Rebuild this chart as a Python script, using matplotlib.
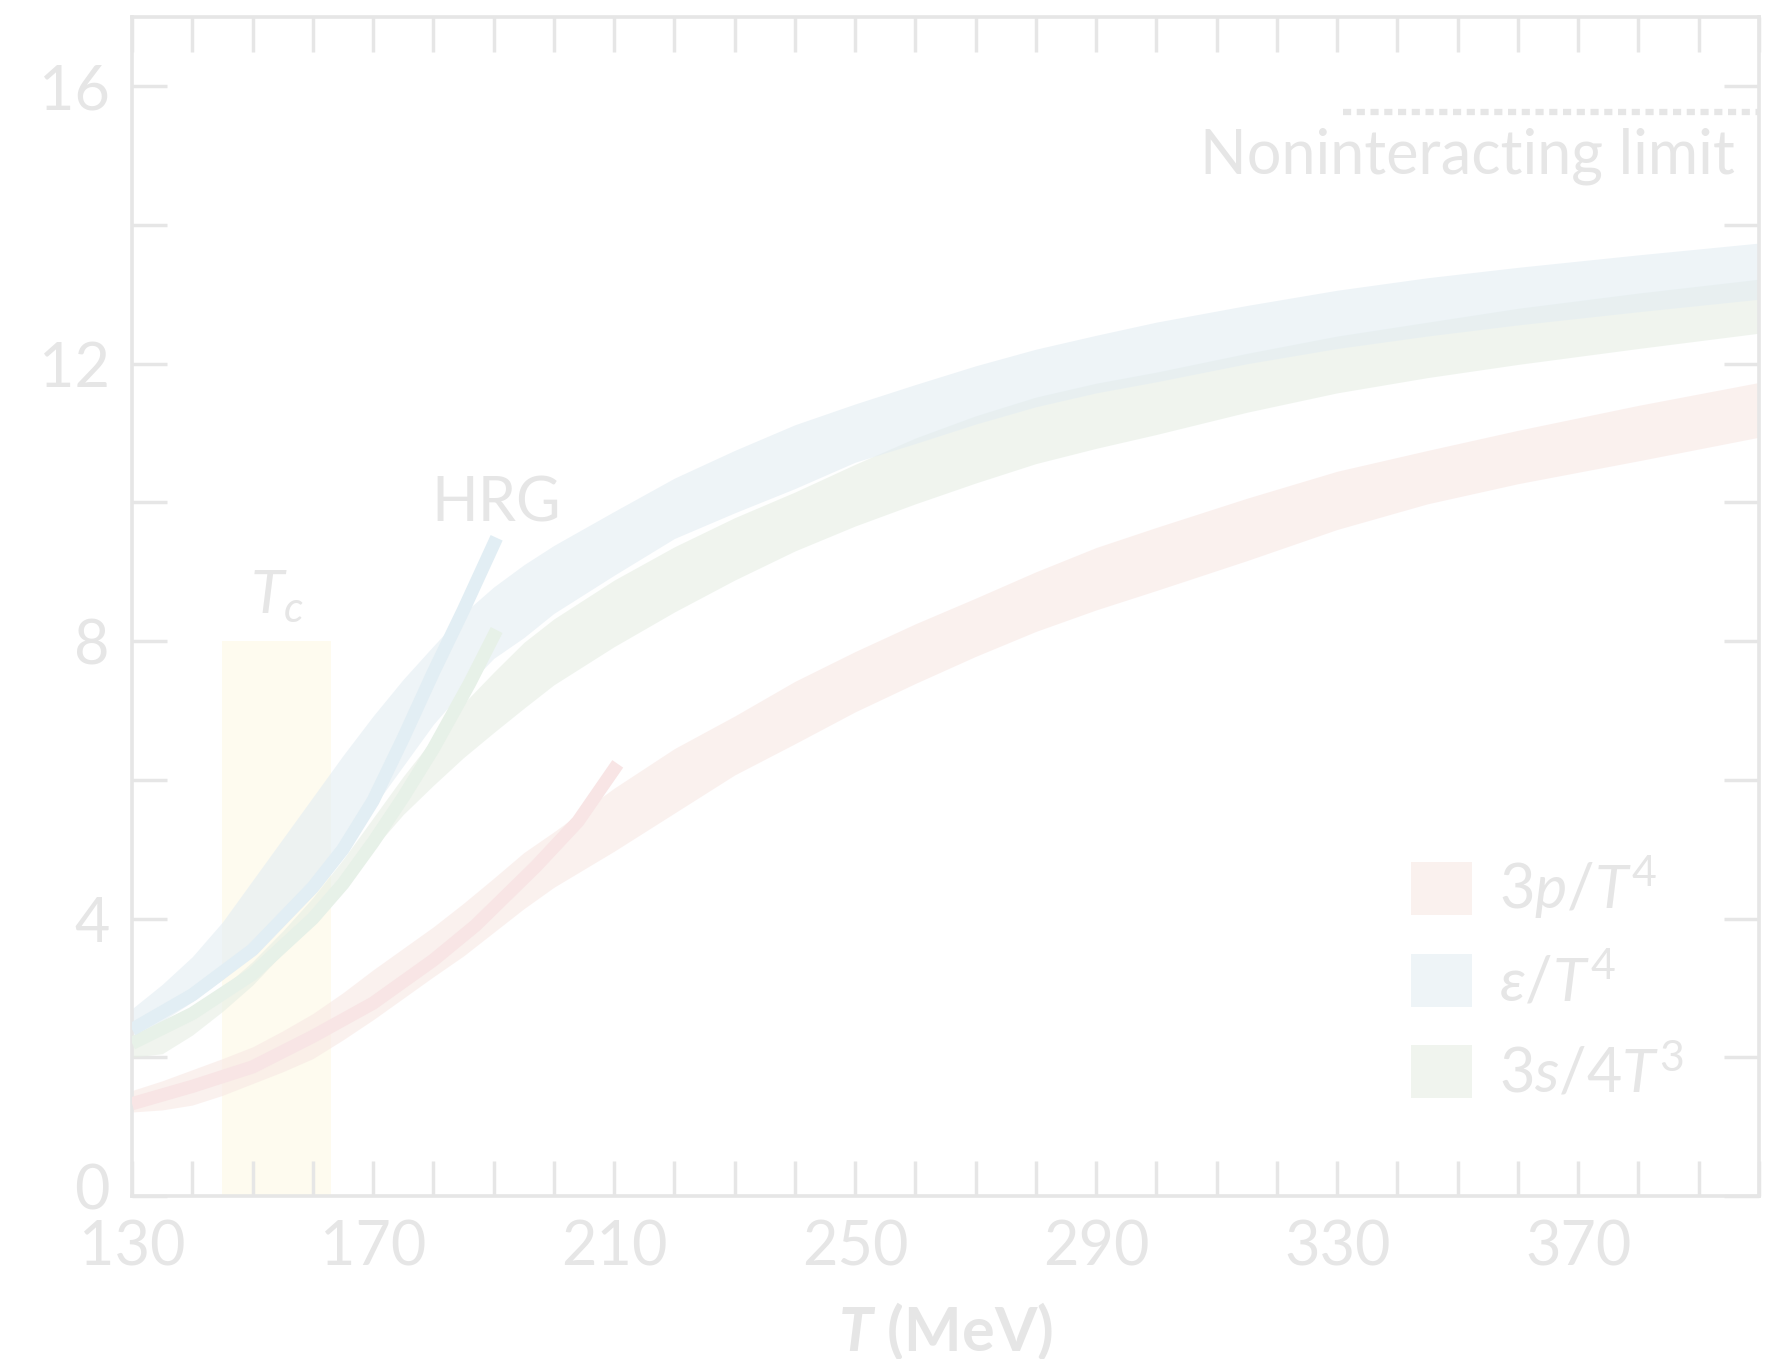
import numpy as np
import matplotlib.pyplot as plt
import matplotlib.transforms as mtrans
from matplotlib.patches import Patch

# Lattice QCD equation of state bands (lower / upper edge) vs temperature in MeV
temp = [130, 135, 140, 145, 150, 155, 160, 165, 170, 175, 180, 185, 190, 195, 200,
        210, 220, 230, 240, 250, 260, 270, 280, 290, 300, 315, 330, 345, 360, 380, 400]
p3_lo = [1.21, 1.24, 1.31, 1.45, 1.62, 1.79, 1.98, 2.25, 2.54, 2.85, 3.16, 3.46, 3.80, 4.14, 4.45,
         4.97, 5.52, 6.07, 6.52, 6.98, 7.39, 7.78, 8.14, 8.45, 8.73, 9.16, 9.61, 9.98, 10.27, 10.60, 10.94]
p3_hi = [1.52, 1.66, 1.82, 1.98, 2.15, 2.38, 2.63, 2.93, 3.26, 3.57, 3.88, 4.22, 4.58, 4.95, 5.25,
         5.88, 6.45, 6.92, 7.42, 7.85, 8.25, 8.62, 9.00, 9.35, 9.64, 10.06, 10.45, 10.75, 11.04, 11.40, 11.73]
eps_lo = [2.32, 2.52, 2.80, 3.12, 3.50, 3.95, 4.45, 5.00, 5.60, 6.20, 6.80, 7.30, 7.75, 8.05, 8.40,
          8.95, 9.48, 9.85, 10.20, 10.58, 10.85, 11.13, 11.38, 11.58, 11.74, 12.00, 12.22, 12.40, 12.56, 12.75, 12.93]
eps_hi = [2.70, 3.05, 3.45, 3.95, 4.55, 5.15, 5.75, 6.35, 6.92, 7.45, 7.93, 8.40, 8.78, 9.10, 9.38,
          9.87, 10.35, 10.75, 11.12, 11.42, 11.70, 11.97, 12.21, 12.41, 12.60, 12.84, 13.06, 13.24, 13.39, 13.57, 13.74]
s34_lo = [2.00, 2.05, 2.32, 2.66, 3.04, 3.50, 4.00, 4.50, 5.00, 5.50, 5.92, 6.32, 6.68, 7.03, 7.37,
          7.92, 8.42, 8.88, 9.30, 9.66, 9.98, 10.28, 10.56, 10.78, 10.98, 11.30, 11.58, 11.80, 11.99, 12.22, 12.44]
s34_hi = [2.28, 2.45, 2.70, 3.00, 3.38, 3.82, 4.30, 4.85, 5.45, 6.05, 6.60, 7.10, 7.55, 7.98, 8.32,
          8.88, 9.36, 9.78, 10.15, 10.55, 10.93, 11.25, 11.52, 11.72, 11.88, 12.15, 12.40, 12.60, 12.80, 13.02, 13.22]

# hadron resonance gas curves
hrg_eps_t = [130, 140, 150, 160, 165, 170, 175, 180, 185, 190.5]
hrg_eps = [2.40, 2.90, 3.55, 4.45, 5.00, 5.70, 6.60, 7.55, 8.45, 9.49]
hrg_s_t = [130, 140, 150, 160, 165, 170, 175, 180, 186, 190.5]
hrg_s = [2.20, 2.63, 3.20, 4.00, 4.50, 5.10, 5.75, 6.45, 7.39, 8.16]
hrg_p_t = [130, 140, 150, 160, 170, 180, 187, 193, 197, 204, 210.6]
hrg_p = [1.33, 1.58, 1.86, 2.30, 2.78, 3.40, 3.90, 4.41, 4.75, 5.40, 6.23]

tc_range = (145, 163)
tc_height = 8
sb_limit = 15.63
sb_range = (331, 400)

gray = "#e6e6e6"
red_band, blue_band, green_band = "#f8e8e4", "#e3edf3", "#e6eee4"
red_line, blue_line, green_line = "#f8e5e5", "#e2eef4", "#e7f1e8"

font = "Lato"
plt.rcParams["font.family"] = font
plt.rcParams["mathtext.fontset"] = "custom"
plt.rcParams["mathtext.rm"] = font
plt.rcParams["mathtext.it"] = font + ":italic"
plt.rcParams["mathtext.bf"] = font + ":bold"
plt.rcParams["mathtext.bfit"] = font + ":bold:italic"

fig = plt.figure(figsize=(17.73, 13.59), dpi=100)
ax = fig.add_axes([0.0745, 0.120, 0.9176, 0.8675])

ax.fill_between(tc_range, 0, tc_height, color="#fefbef", lw=0, zorder=1)

ax.fill_between(temp, p3_lo, p3_hi, color=red_band, alpha=0.6, lw=0, zorder=2)
ax.fill_between(temp, s34_lo, s34_hi, color=green_band, alpha=0.6, lw=0, zorder=2)
ax.fill_between(temp, eps_lo, eps_hi, color=blue_band, alpha=0.6, lw=0, zorder=2)

lw_hrg = 9.5
ax.plot(hrg_p_t, hrg_p, color=red_line, lw=lw_hrg, solid_capstyle="butt",
        solid_joinstyle="round", zorder=3)
ax.plot(hrg_s_t, hrg_s, color=green_line, lw=lw_hrg, solid_capstyle="butt",
        solid_joinstyle="round", zorder=3)
ax.plot(hrg_eps_t, hrg_eps, color=blue_line, lw=lw_hrg, solid_capstyle="butt",
        solid_joinstyle="round", zorder=3)

ax.plot(sb_range, [sb_limit, sb_limit], color=gray, lw=4.5,
        dashes=(1.3, 0.9), dash_capstyle="butt", zorder=3)

fs = 44
ax.text(396, 14.75, "Noninteracting limit", ha="right", va="baseline",
        color=gray, fontsize=fs)
ax.text(190.5, 9.73, "HRG", ha="center", va="baseline", color=gray, fontsize=fs)
ax.text(154, 8.4, r"$T_c$", ha="center", va="baseline", color=gray, fontsize=fs)

ax.set_xlim(130, 400)
ax.set_ylim(0, 17)
ax.set_xticks(np.arange(130, 400, 40))
ax.set_xticks(np.arange(130, 401, 10), minor=True)
ax.set_yticks(np.arange(0, 17, 4))
ax.set_yticks(np.arange(0, 17, 2), minor=True)
ax.tick_params(which="both", direction="in", length=25, width=2.5, color=gray,
               top=True, right=True, labelsize=fs, labelcolor=gray)
ax.tick_params(axis="y", pad=16)
ax.tick_params(axis="x", pad=17)
for sp in ax.spines.values():
    sp.set_color(gray)
    sp.set_linewidth(2.6)

# lift the "0" a little so it clears the first x label
zero_lab = ax.yaxis.get_major_ticks()[0].label1
zero_lab.set_transform(zero_lab.get_transform()
                       + mtrans.ScaledTranslation(0, 0.09, fig.dpi_scale_trans))

ax.set_xlabel(r"$\mathbfit{T}$ (MeV)", fontsize=fs, fontweight="bold",
              color=gray, labelpad=17)

handles = [Patch(facecolor=red_band, alpha=0.6, lw=0),
           Patch(facecolor=blue_band, alpha=0.6, lw=0),
           Patch(facecolor=green_band, alpha=0.6, lw=0)]
labels = [r"$3p/T^4$", r"$\varepsilon/T^4$", r"$3s/4T^3$"]
leg = ax.legend(handles, labels, loc="upper left", bbox_to_anchor=(0.786, 0.29),
                frameon=False, fontsize=fs, handlelength=1.0, handleheight=0.96,
                handletextpad=0.45, labelspacing=0.52, borderpad=0, borderaxespad=0)
for t in leg.get_texts():
    t.set_color(gray)

fig.savefig("out.png", dpi=100, facecolor="white")
